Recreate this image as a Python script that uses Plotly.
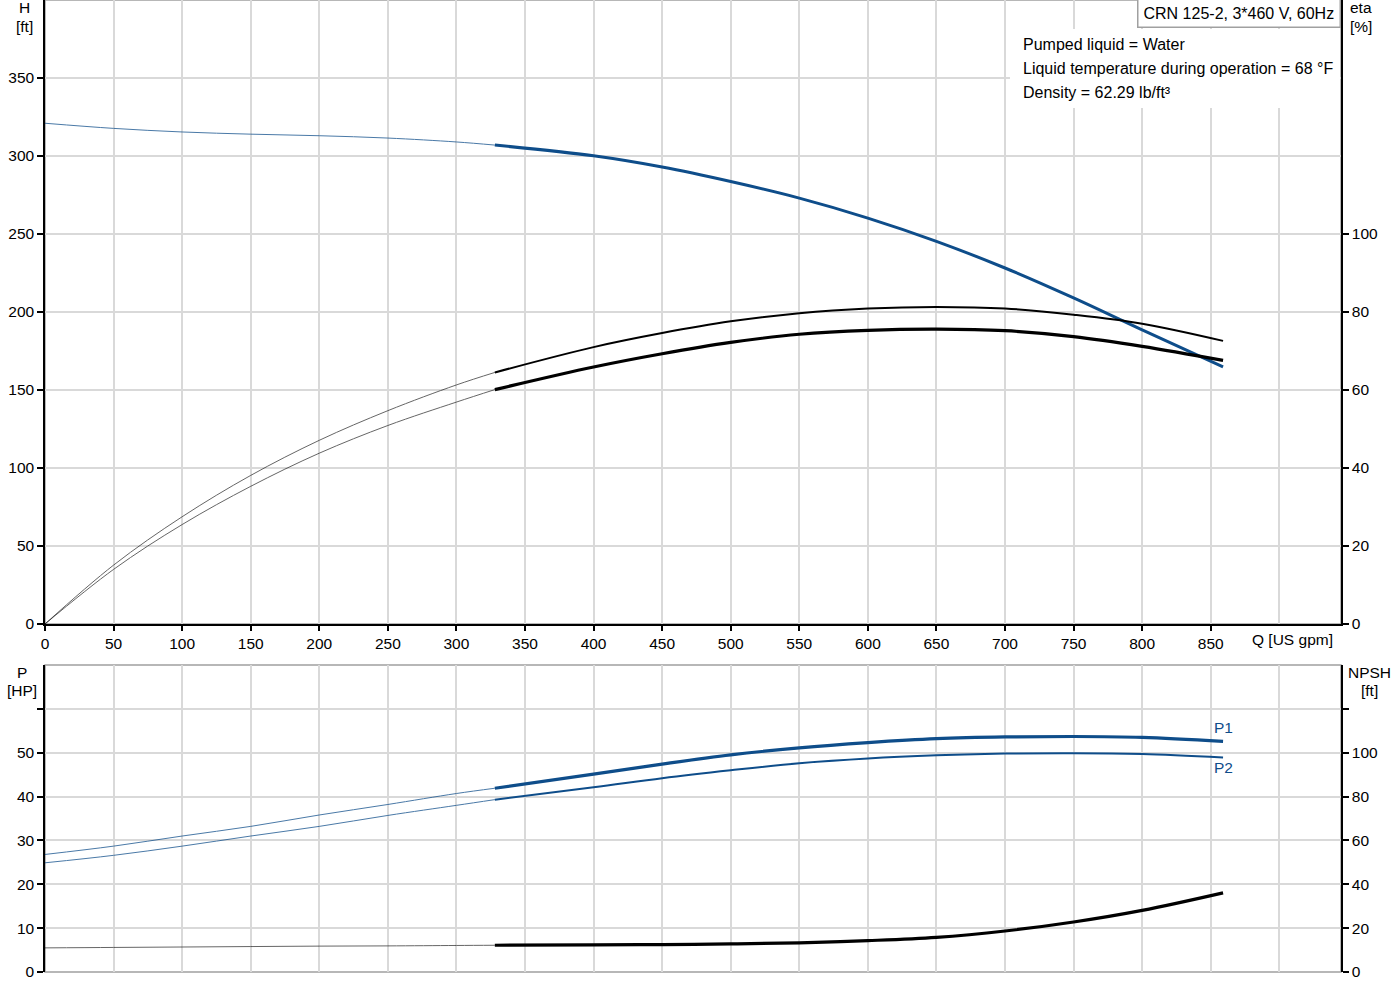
import plotly.graph_objects as go

# ---------------- data ----------------
Q = [0, 50, 100, 150, 200, 250, 300, 328, 400, 450, 500, 550, 600, 650, 700, 750, 800, 859]
H = [321, 317.7, 315.4, 314, 313, 311.5, 309, 307, 300.1, 292.9, 283.6, 273.0, 260.2, 245.3, 228.2, 209.0, 188.5, 164.9]
ETA_A = [0, 15.1, 27.5, 38.1, 47.1, 54.7, 61.3, 64.5, 71.0, 74.6, 77.6, 79.7, 80.9, 81.3, 80.9, 79.3, 77.0, 72.6]
ETA_B = [0, 14.0, 25.5, 35.3, 43.8, 50.9, 56.9, 60.1, 65.9, 69.3, 72.2, 74.3, 75.3, 75.6, 75.2, 73.7, 71.2, 67.6]
P1 = [26.8, 28.7, 31.0, 33.2, 35.8, 38.2, 40.7, 41.9, 45.1, 47.4, 49.5, 51.1, 52.3, 53.2, 53.6, 53.7, 53.5, 52.6]
P2 = [24.9, 26.6, 28.7, 31.0, 33.2, 35.7, 38.0, 39.3, 42.1, 44.2, 46.0, 47.6, 48.7, 49.4, 49.8, 49.9, 49.7, 48.9]
NPSH = [11.0, 11.2, 11.4, 11.6, 11.8, 11.9, 12.1, 12.2, 12.4, 12.5, 12.8, 13.3, 14.3, 15.8, 18.7, 22.8, 28.1, 36.1]
SPLIT = 7  # index where the operating range (thick line) starts

Q_TICKS = [0, 50, 100, 150, 200, 250, 300, 350, 400, 450, 500, 550, 600, 650, 700, 750, 800, 850]
H_TICKS = [0, 50, 100, 150, 200, 250, 300, 350]
ETA_TICKS = [0, 20, 40, 60, 80, 100]
P_TICKS = [0, 10, 20, 30, 40, 50, 60]
P_TEXT = ["0", "10", "20", "30", "40", "50", ""]
NPSH_TICKS = [0, 20, 40, 60, 80, 100, 120]
NPSH_TEXT = ["0", "20", "40", "60", "80", "100", ""]

INFO_LINES = ["Pumped liquid = Water",
              "Liquid temperature during operation = 68 °F",
              "Density = 62.29 lb/ft³"]
TITLE = "CRN 125-2, 3*460 V, 60Hz"

# ---------------- styling ----------------
BLUE = "#0e4d8a"
BLACK = "#000000"
GRID = "#d9d9d9"
FONT = "Liberation Sans, Arial, sans-serif"
FS = 15.5
W, HGT = 1400, 1000
ML, MR, MT, MB = 45, 59, 0, 28
PW, PH = W - ML - MR, HGT - MT - MB


def px_x(px):
    return (px - ML) / PW


def px_y(py):
    return 1 - (py - MT) / PH


fig = go.Figure()


def add_curve(y, color, thick, xaxis, yaxis, thin_opacity=0.75):
    fig.add_trace(go.Scatter(x=Q[:SPLIT + 1], y=y[:SPLIT + 1], mode="lines",
                             line=dict(color=color, width=1, shape="spline", smoothing=1.0),
                             opacity=thin_opacity, xaxis=xaxis, yaxis=yaxis,
                             hoverinfo="skip", showlegend=False))
    fig.add_trace(go.Scatter(x=Q[SPLIT:], y=y[SPLIT:], mode="lines",
                             line=dict(color=color, width=thick, shape="spline", smoothing=1.0),
                             xaxis=xaxis, yaxis=yaxis, hoverinfo="skip", showlegend=False))


add_curve(H, BLUE, 3, "x", "y")
add_curve(ETA_A, BLACK, 2, "x", "y2", 0.6)
add_curve(ETA_B, BLACK, 3.2, "x", "y2", 0.6)
add_curve(P1, BLUE, 3.2, "x2", "y3")
add_curve(P2, BLUE, 2, "x2", "y3")
add_curve(NPSH, BLACK, 3.2, "x2", "y4", 0.6)

TOP_DOM = [px_y(624), 1]
BOT_DOM = [0, px_y(665)]
XR = [0, 945]

common_x = dict(range=XR, tickvals=Q_TICKS, showgrid=True, gridcolor=GRID, gridwidth=1.5,
                zeroline=False, minor=dict(tickvals=[900], showgrid=True, gridcolor=GRID,
                                           gridwidth=1.5, ticks=""),
                tickfont=dict(family=FONT, size=FS, color="black"))

fig.update_layout(
    width=W, height=HGT, autosize=False,
    margin=dict(l=ML, r=MR, t=MT, b=MB, pad=0),
    paper_bgcolor="white", plot_bgcolor="white",
    font=dict(family=FONT, size=FS, color="black"),
    showlegend=False,
    xaxis=dict(domain=[0, 1], anchor="y", ticks="outside", ticklen=5, tickwidth=1.5,
               tickcolor="black", showline=True, linecolor="black", linewidth=1.5,
               **common_x),
    yaxis=dict(domain=TOP_DOM, anchor="x", range=[0, 400], tickvals=H_TICKS,
               ticks="outside", ticklen=6, tickwidth=1.5, tickcolor="black",
               showline=True, linecolor="black", linewidth=1.5,
               showgrid=True, gridcolor=GRID, gridwidth=1.5, zeroline=False,
               tickfont=dict(family=FONT, size=FS, color="black")),
    yaxis2=dict(overlaying="y", side="right", anchor="x", range=[0, 160], tickvals=ETA_TICKS,
                ticks="outside", ticklen=6, tickwidth=1.5, tickcolor="black",
                showline=True, linecolor="black", linewidth=1.5,
                showgrid=False, zeroline=False,
                tickfont=dict(family=FONT, size=FS, color="black")),
    xaxis2=dict(domain=[0, 1], anchor="y3", showticklabels=False, ticks="",
                showline=False, **common_x),
    yaxis3=dict(domain=BOT_DOM, anchor="x2", range=[0, 70], tickvals=P_TICKS, ticktext=P_TEXT,
                ticks="outside", ticklen=6, tickwidth=1.5, tickcolor="black",
                showline=True, linecolor="black", linewidth=1.5,
                showgrid=True, gridcolor=GRID, gridwidth=1.5, zeroline=False,
                tickfont=dict(family=FONT, size=FS, color="black")),
    yaxis4=dict(overlaying="y3", side="right", anchor="x2", range=[0, 140],
                tickvals=NPSH_TICKS, ticktext=NPSH_TEXT,
                ticks="outside", ticklen=6, tickwidth=1.5, tickcolor="black",
                showline=True, linecolor="black", linewidth=1.5,
                showgrid=False, zeroline=False,
                tickfont=dict(family=FONT, size=FS, color="black")),
)

# panel frames (grey)
fig.add_shape(type="rect", xref="x domain", yref="y domain", x0=0, x1=1, y0=0, y1=1,
              line=dict(color="#a0a0a0", width=1.5), layer="below")
fig.add_shape(type="rect", xref="x2 domain", yref="y3 domain", x0=0, x1=1, y0=0, y1=1,
              line=dict(color="#a0a0a0", width=1.5), layer="below")
# white area behind info text
fig.add_shape(type="rect", xref="paper", yref="paper", x0=px_x(1010), x1=px_x(1340),
              y0=px_y(108), y1=px_y(29), fillcolor="white", line=dict(width=0), layer="above")

ann = []


def label(text, px, py, xanchor="center", yanchor="middle", size=FS, **kw):
    ann.append(dict(text=text, xref="paper", yref="paper", x=px_x(px), y=px_y(py),
                    xanchor=xanchor, yanchor=yanchor, showarrow=False,
                    font=dict(family=FONT, size=size, color="black"), **kw))


label("H", 24, 8)
label("[ft]", 24, 26)
label("eta", 1361, 8)
label("[%]", 1361, 26)
label("P", 22, 672)
label("[HP]", 22, 690)
label("NPSH", 1369, 672)
label("[ft]", 1369, 690)
label("Q [US gpm]", 1292, 639)
for i, t in enumerate(INFO_LINES):
    label(t, 1021, 44 + 24 * i, xanchor="left", size=16)

ann.append(dict(text=TITLE, xref="paper", yref="paper", x=1, y=1, xanchor="right",
                yanchor="top", showarrow=False, bgcolor="white", bordercolor="#a0a0a0",
                borderwidth=1.5, borderpad=5, yshift=2,
                font=dict(family=FONT, size=FS + 0.5, color="black")))

ann.append(dict(text="P1", xref="x2", yref="y3", x=Q[-1], y=P1[-1], yshift=14,
                showarrow=False, font=dict(family=FONT, size=FS, color=BLUE)))
ann.append(dict(text="P2", xref="x2", yref="y3", x=Q[-1], y=P2[-1], yshift=-10,
                showarrow=False, font=dict(family=FONT, size=FS, color=BLUE)))

fig.update_layout(annotations=ann)

fig.write_html("out.html", config={"displayModeBar": False},
               post_script="document.body.style.margin='0';document.body.style.overflow='hidden';")
